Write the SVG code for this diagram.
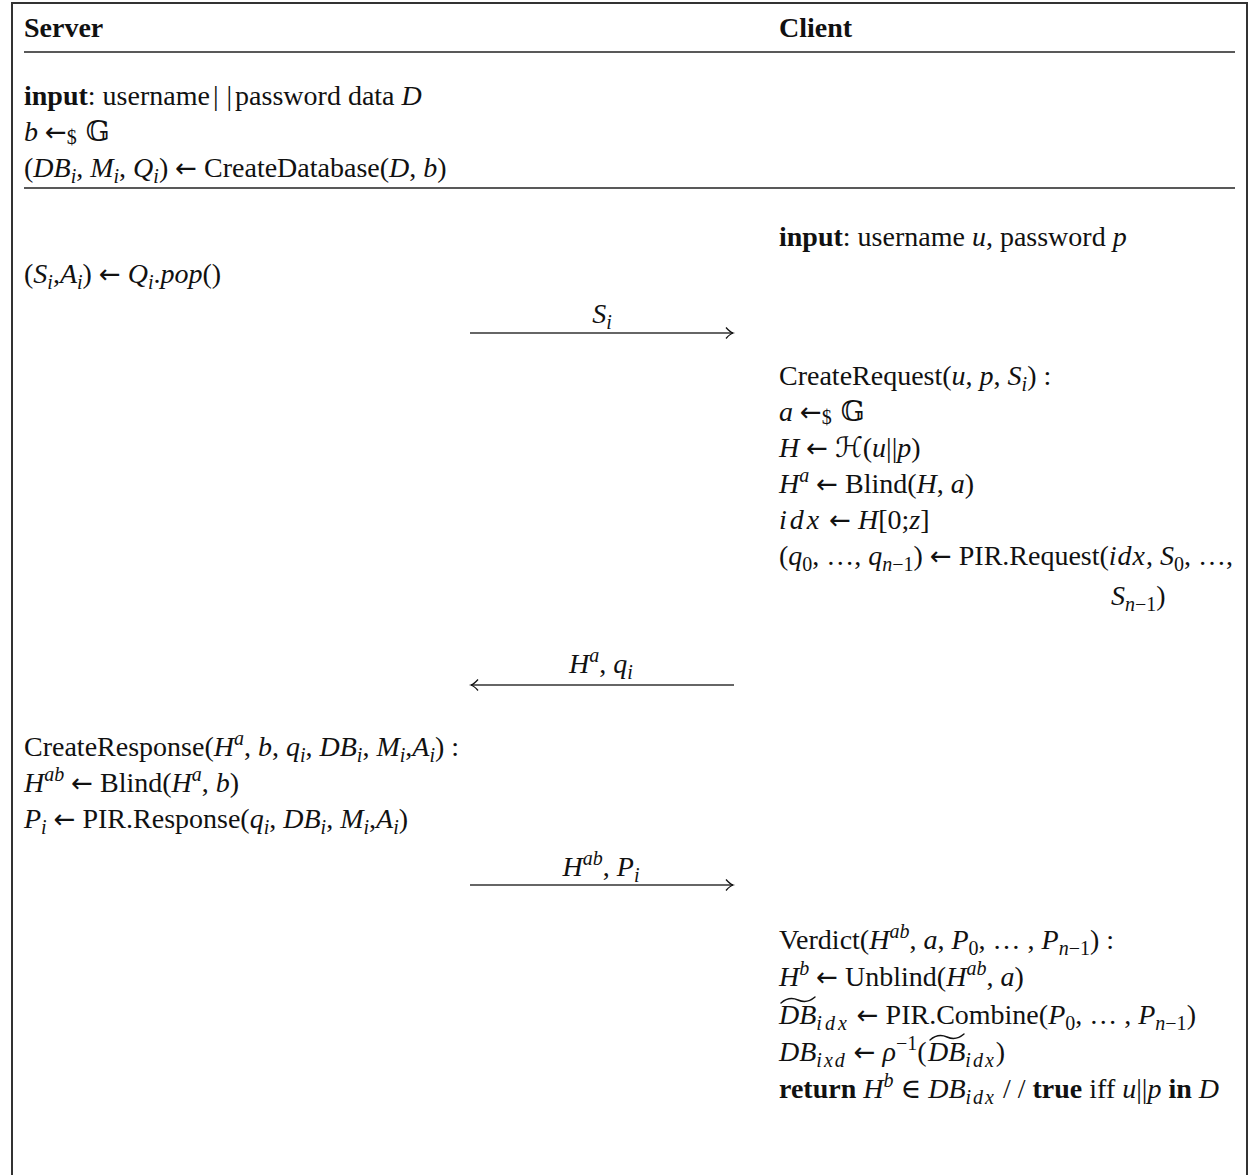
<svg xmlns="http://www.w3.org/2000/svg" width="1259" height="1175" viewBox="0 0 1259 1175">
<style>
text { font-family: "Liberation Serif", "DejaVu Serif", serif; font-size: 28px; fill: #111; }
.b { font-weight: bold; }
.i { font-style: italic; }
.s { font-size: 20px; }
.si { font-size: 20px; font-style: italic; }
.m { font-family: "DejaVu Serif", "DejaVu Sans", serif; }
.ar { font-family: "DejaVu Sans", sans-serif; font-size: 26px; }
.frame { fill: none; stroke: #333; stroke-width: 2; }
.rule { stroke: #222; stroke-width: 1.6; }
.msg { stroke: #333; stroke-width: 1.3; fill: none; }
.tilde { fill: none; stroke: #111; stroke-width: 1.4; stroke-linecap: round; }
</style>
<defs>
<marker id="ah" markerUnits="userSpaceOnUse" markerWidth="14" markerHeight="14" refX="0" refY="0" viewBox="-10 -7 12 14" orient="auto">
<path d="M-7,-5.5 Q-3,-1 0,0 Q-3,1 -7,5.5" fill="none" stroke="#111" stroke-width="1.3"/>
</marker>
</defs>
<rect x="0" y="0" width="1259" height="1175" fill="#fff"/>
<g id="frame">
<path class="frame" d="M12,1175 V3 H1247 V1175"/>
<line class="rule" x1="24" y1="52" x2="1235" y2="52"/>
<line class="rule" x1="24" y1="188" x2="1235" y2="188"/>
</g>
<g id="headers">
<text x="24" y="37" class="b">Server</text>
<text x="779" y="37" class="b">Client</text>
</g>
<g id="server-setup">
<text x="24" y="105"><tspan class="b">input</tspan>: username<tspan dx="3">|</tspan><tspan dx="8">|</tspan><tspan dx="3">password data </tspan><tspan class="i">D</tspan></text>
<text x="24" y="141"><tspan class="i">b</tspan> <tspan class="ar">←</tspan><tspan class="s" dy="3">$</tspan><tspan class="m" dy="-3"> 𝔾</tspan></text>
<text x="24" y="177">(<tspan class="i">DB</tspan><tspan class="si" dy="6">i</tspan><tspan dy="-6">, </tspan><tspan class="i">M</tspan><tspan class="si" dy="6">i</tspan><tspan dy="-6">, </tspan><tspan class="i">Q</tspan><tspan class="si" dy="6">i</tspan><tspan dy="-6">) </tspan><tspan class="ar">←</tspan> CreateDatabase(<tspan class="i">D</tspan>, <tspan class="i">b</tspan>)</text>
</g>
<g id="client-input">
<text x="779" y="246"><tspan class="b">input</tspan>: username <tspan class="i">u</tspan>, password <tspan class="i">p</tspan></text>
</g>
<g id="server-pop">
<text x="24" y="283">(<tspan class="i">S</tspan><tspan class="si" dy="6">i</tspan><tspan dy="-6">,</tspan><tspan class="i">A</tspan><tspan class="si" dy="6">i</tspan><tspan dy="-6">) </tspan><tspan class="ar">←</tspan> <tspan class="i">Q</tspan><tspan class="si" dy="6">i</tspan><tspan dy="-6">.</tspan><tspan class="i">pop</tspan>()</text>
</g>
<g id="client-request">
<text x="779" y="385">CreateRequest(<tspan class="i">u</tspan>, <tspan class="i">p</tspan>, <tspan class="i">S</tspan><tspan class="si" dy="6">i</tspan><tspan dy="-6">) :</tspan></text>
<text x="779" y="421"><tspan class="i">a</tspan> <tspan class="ar">←</tspan><tspan class="s" dy="3">$</tspan><tspan class="m" dy="-3"> 𝔾</tspan></text>
<text x="779" y="457"><tspan class="i">H</tspan> <tspan class="ar">←</tspan> <tspan class="m">ℋ</tspan>(<tspan class="i">u</tspan>||<tspan class="i">p</tspan>)</text>
<text x="779" y="493"><tspan class="i">H</tspan><tspan class="si" dy="-11">a</tspan><tspan dy="11"> </tspan><tspan class="ar">←</tspan> Blind(<tspan class="i">H</tspan>, <tspan class="i">a</tspan>)</text>
<text x="779" y="529"><tspan class="i" letter-spacing="3">idx</tspan> <tspan class="ar">←</tspan> <tspan class="i">H</tspan>[0;<tspan class="i">z</tspan>]</text>
<text x="779" y="565">(<tspan class="i">q</tspan><tspan class="s" dy="6">0</tspan><tspan dy="-6">, …, </tspan><tspan class="i">q</tspan><tspan class="si" dy="6">n</tspan><tspan class="s">−1</tspan><tspan dy="-6">) </tspan><tspan class="ar">←</tspan> PIR.Request(<tspan class="i" letter-spacing="1">idx</tspan>, <tspan class="i">S</tspan><tspan class="s" dy="6">0</tspan><tspan dy="-6">, …,</tspan></text>
<text x="1111" y="605"><tspan class="i">S</tspan><tspan class="si" dy="6">n</tspan><tspan class="s">−1</tspan><tspan dy="-6">)</tspan></text>
</g>
<g id="server-response">
<text x="24" y="756">CreateResponse(<tspan class="i">H</tspan><tspan class="si" dy="-11">a</tspan><tspan dy="11">, </tspan><tspan class="i">b</tspan>, <tspan class="i">q</tspan><tspan class="si" dy="6">i</tspan><tspan dy="-6">, </tspan><tspan class="i">DB</tspan><tspan class="si" dy="6">i</tspan><tspan dy="-6">, </tspan><tspan class="i">M</tspan><tspan class="si" dy="6">i</tspan><tspan dy="-6">,</tspan><tspan class="i">A</tspan><tspan class="si" dy="6">i</tspan><tspan dy="-6">) :</tspan></text>
<text x="24" y="792"><tspan class="i">H</tspan><tspan class="si" dy="-11">ab</tspan><tspan dy="11"> </tspan><tspan class="ar">←</tspan> Blind(<tspan class="i">H</tspan><tspan class="si" dy="-11">a</tspan><tspan dy="11">, </tspan><tspan class="i">b</tspan>)</text>
<text x="24" y="828"><tspan class="i">P</tspan><tspan class="si" dy="6">i</tspan><tspan dy="-6"> </tspan><tspan class="ar">←</tspan> PIR.Response(<tspan class="i">q</tspan><tspan class="si" dy="6">i</tspan><tspan dy="-6">, </tspan><tspan class="i">DB</tspan><tspan class="si" dy="6">i</tspan><tspan dy="-6">, </tspan><tspan class="i">M</tspan><tspan class="si" dy="6">i</tspan><tspan dy="-6">,</tspan><tspan class="i">A</tspan><tspan class="si" dy="6">i</tspan><tspan dy="-6">)</tspan></text>
</g>
<g id="client-verdict">
<text x="779" y="949">Verdict(<tspan class="i">H</tspan><tspan class="si" dy="-11">ab</tspan><tspan dy="11">, </tspan><tspan class="i">a</tspan>, <tspan class="i">P</tspan><tspan class="s" dy="6">0</tspan><tspan dy="-6">, … , </tspan><tspan class="i">P</tspan><tspan class="si" dy="6">n</tspan><tspan class="s">−1</tspan><tspan dy="-6">) :</tspan></text>
<text x="779" y="986"><tspan class="i">H</tspan><tspan class="si" dy="-11">b</tspan><tspan dy="11"> </tspan><tspan class="ar">←</tspan> Unblind(<tspan class="i">H</tspan><tspan class="si" dy="-11">ab</tspan><tspan dy="11">, </tspan><tspan class="i">a</tspan>)</text>
<text x="779" y="1024"><tspan class="i">DB</tspan><tspan class="si" dy="6" letter-spacing="3">idx</tspan><tspan dy="-6"> </tspan><tspan class="ar">←</tspan> PIR.Combine(<tspan class="i">P</tspan><tspan class="s" dy="6">0</tspan><tspan dy="-6">, … , </tspan><tspan class="i">P</tspan><tspan class="si" dy="6">n</tspan><tspan class="s">−1</tspan><tspan dy="-6">)</tspan></text>
<path class="tilde" d="M781,1003 Q789,996 798,1000 T815,997"/>
<text x="779" y="1061"><tspan class="i">DB</tspan><tspan class="si" dy="6" letter-spacing="2">ixd</tspan><tspan dy="-6"> </tspan><tspan class="ar">←</tspan> <tspan class="i">ρ</tspan><tspan class="s" dy="-11">−1</tspan><tspan dy="11">(</tspan><tspan class="i" x="928">DB</tspan><tspan class="si" dy="6" letter-spacing="2">idx</tspan><tspan dy="-6">)</tspan></text>
<path class="tilde" d="M930,1040 Q938,1033 947,1037 T964,1034"/>
<text x="779" y="1098"><tspan class="b">return</tspan> <tspan class="i">H</tspan><tspan class="si" dy="-11">b</tspan><tspan dy="11"> </tspan><tspan class="m">∈</tspan> <tspan class="i">DB</tspan><tspan class="si" dy="6" letter-spacing="2">idx</tspan><tspan dy="-6"> / / </tspan><tspan class="b">true</tspan> iff <tspan class="i">u</tspan>||<tspan class="i">p</tspan> <tspan class="b">in</tspan> <tspan class="i">D</tspan></text>
</g>
<g id="connectors">
<line class="msg" x1="470" y1="333" x2="733" y2="333" marker-end="url(#ah)"/>
<text x="602" y="323" text-anchor="middle"><tspan class="i">S</tspan><tspan class="si" dy="6">i</tspan></text>
<line class="msg" x1="734" y1="685" x2="471" y2="685" marker-end="url(#ah)"/>
<text x="601" y="673" text-anchor="middle"><tspan class="i">H</tspan><tspan class="si" dy="-11">a</tspan><tspan dy="11">, </tspan><tspan class="i">q</tspan><tspan class="si" dy="6">i</tspan></text>
<line class="msg" x1="470" y1="885" x2="733" y2="885" marker-end="url(#ah)"/>
<text x="601" y="876" text-anchor="middle"><tspan class="i">H</tspan><tspan class="si" dy="-11">ab</tspan><tspan dy="11">, </tspan><tspan class="i">P</tspan><tspan class="si" dy="6">i</tspan></text>
</g>
</svg>
